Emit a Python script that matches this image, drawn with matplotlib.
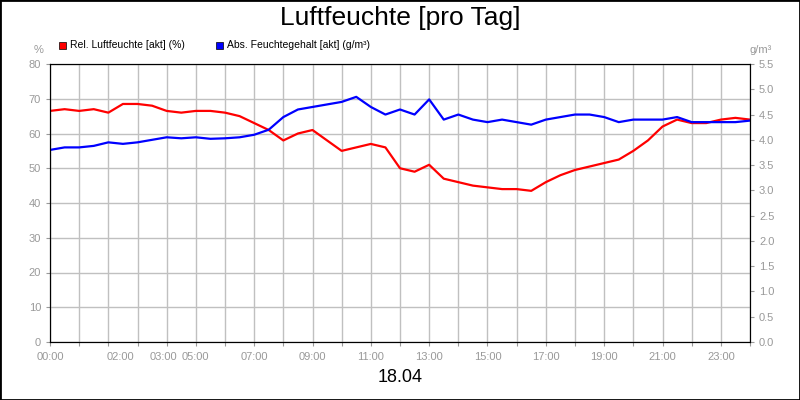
import matplotlib
matplotlib.use("Agg")
import matplotlib.pyplot as plt
from matplotlib.patches import Rectangle

plt.rcParams['font.family'] = ['Liberation Sans', 'DejaVu Sans']

hours = [i * 0.5 for i in range(49)]
rel = [66.5, 67, 66.5, 67, 66, 68.5, 68.5, 68, 66.5, 66, 66.5, 66.5, 66, 65, 63, 61,
       58, 60, 61, 58, 55, 56, 57, 56, 50, 49, 51, 47, 46, 45, 44.5, 44, 44, 43.5,
       46, 48, 49.5, 50.5, 51.5, 52.5, 55, 58, 62, 64, 63, 63, 64, 64.5, 64]
absf = [3.8, 3.85, 3.85, 3.88, 3.95, 3.92, 3.95, 4.0, 4.05, 4.03, 4.05, 4.02, 4.03,
        4.05, 4.1, 4.2, 4.45, 4.6, 4.65, 4.7, 4.75, 4.85, 4.65, 4.5, 4.6, 4.5, 4.8,
        4.4, 4.5, 4.4, 4.35, 4.4, 4.35, 4.3, 4.4, 4.45, 4.5, 4.5, 4.45, 4.35, 4.4,
        4.4, 4.4, 4.45, 4.35, 4.35, 4.35, 4.35, 4.38]
tick_pos = [0, 2.4, 3.9, 5, 7, 9, 11, 13, 15, 17, 19, 21, 23]
tick_lab = ["00:00", "02:00", "03:00", "05:00", "07:00", "09:00", "11:00", "13:00",
            "15:00", "17:00", "19:00", "21:00", "23:00"]

fig = plt.figure(figsize=(8, 4), dpi=100)
fig.patches.append(Rectangle((0, 0), 1, 1, transform=fig.transFigure, fill=False,
                             edgecolor='black', linewidth=2))
ax = fig.add_axes([50/800, 58/400, 700/800, 278/400])
ax2 = ax.twinx()
grey = '#999999'
ax.plot(hours, rel, color='#ff0000', lw=1.6)
ax2.plot(hours, absf, color='#0000ff', lw=1.6)
ax.set_xlim(0, 24)
ax.set_ylim(0, 80)
ax2.set_ylim(0, 5.5)
ax.set_yticks(range(0, 81, 10))
ax2.set_yticks([i * 0.5 for i in range(12)])
ax2.set_yticklabels([f"{i*0.5:.1f}" for i in range(12)])
ax.set_xticks(range(25), minor=False)
ax.set_xticklabels([""] * 25)
for p, l in zip(tick_pos, tick_lab):
    ax.text(p, -3, l, ha='center', va='top', fontsize=8, color=grey)
ax.grid(True, color='#c0c0c0', lw=1)
ax.set_axisbelow(True)
for a in (ax, ax2):
    a.tick_params(labelsize=8, labelcolor=grey, color=grey, length=3)
    for s in a.spines.values():
        s.set_color('black')
ax.text(-0.01, 1.04, "%", transform=ax.transAxes, ha='right', fontsize=8, color=grey)
ax2.text(1.0, 1.04, "g/m³", transform=ax.transAxes, ha='left', fontsize=8, color=grey)
fig.text(0.5, 0.955, "Luftfeuchte [pro Tag]", ha='center', va='center', fontsize=19)
fig.text(0.5, 0.055, "18.04", ha='center', va='center', fontsize=13)
fig.patches.append(Rectangle((59/800, 1 - 49/400), 7/800, 7/400, transform=fig.transFigure,
                             facecolor='#ff0000', edgecolor='black', lw=0.5))
fig.text(70/800, 1 - 45/400, "Rel. Luftfeuchte [akt] (%)", fontsize=7.5, va='center')
fig.patches.append(Rectangle((216/800, 1 - 49/400), 7/800, 7/400, transform=fig.transFigure,
                             facecolor='#0000ff', edgecolor='black', lw=0.5))
fig.text(227/800, 1 - 45/400, "Abs. Feuchtegehalt [akt] (g/m³)", fontsize=7.5, va='center')
fig.savefig("out.png", dpi=100)
